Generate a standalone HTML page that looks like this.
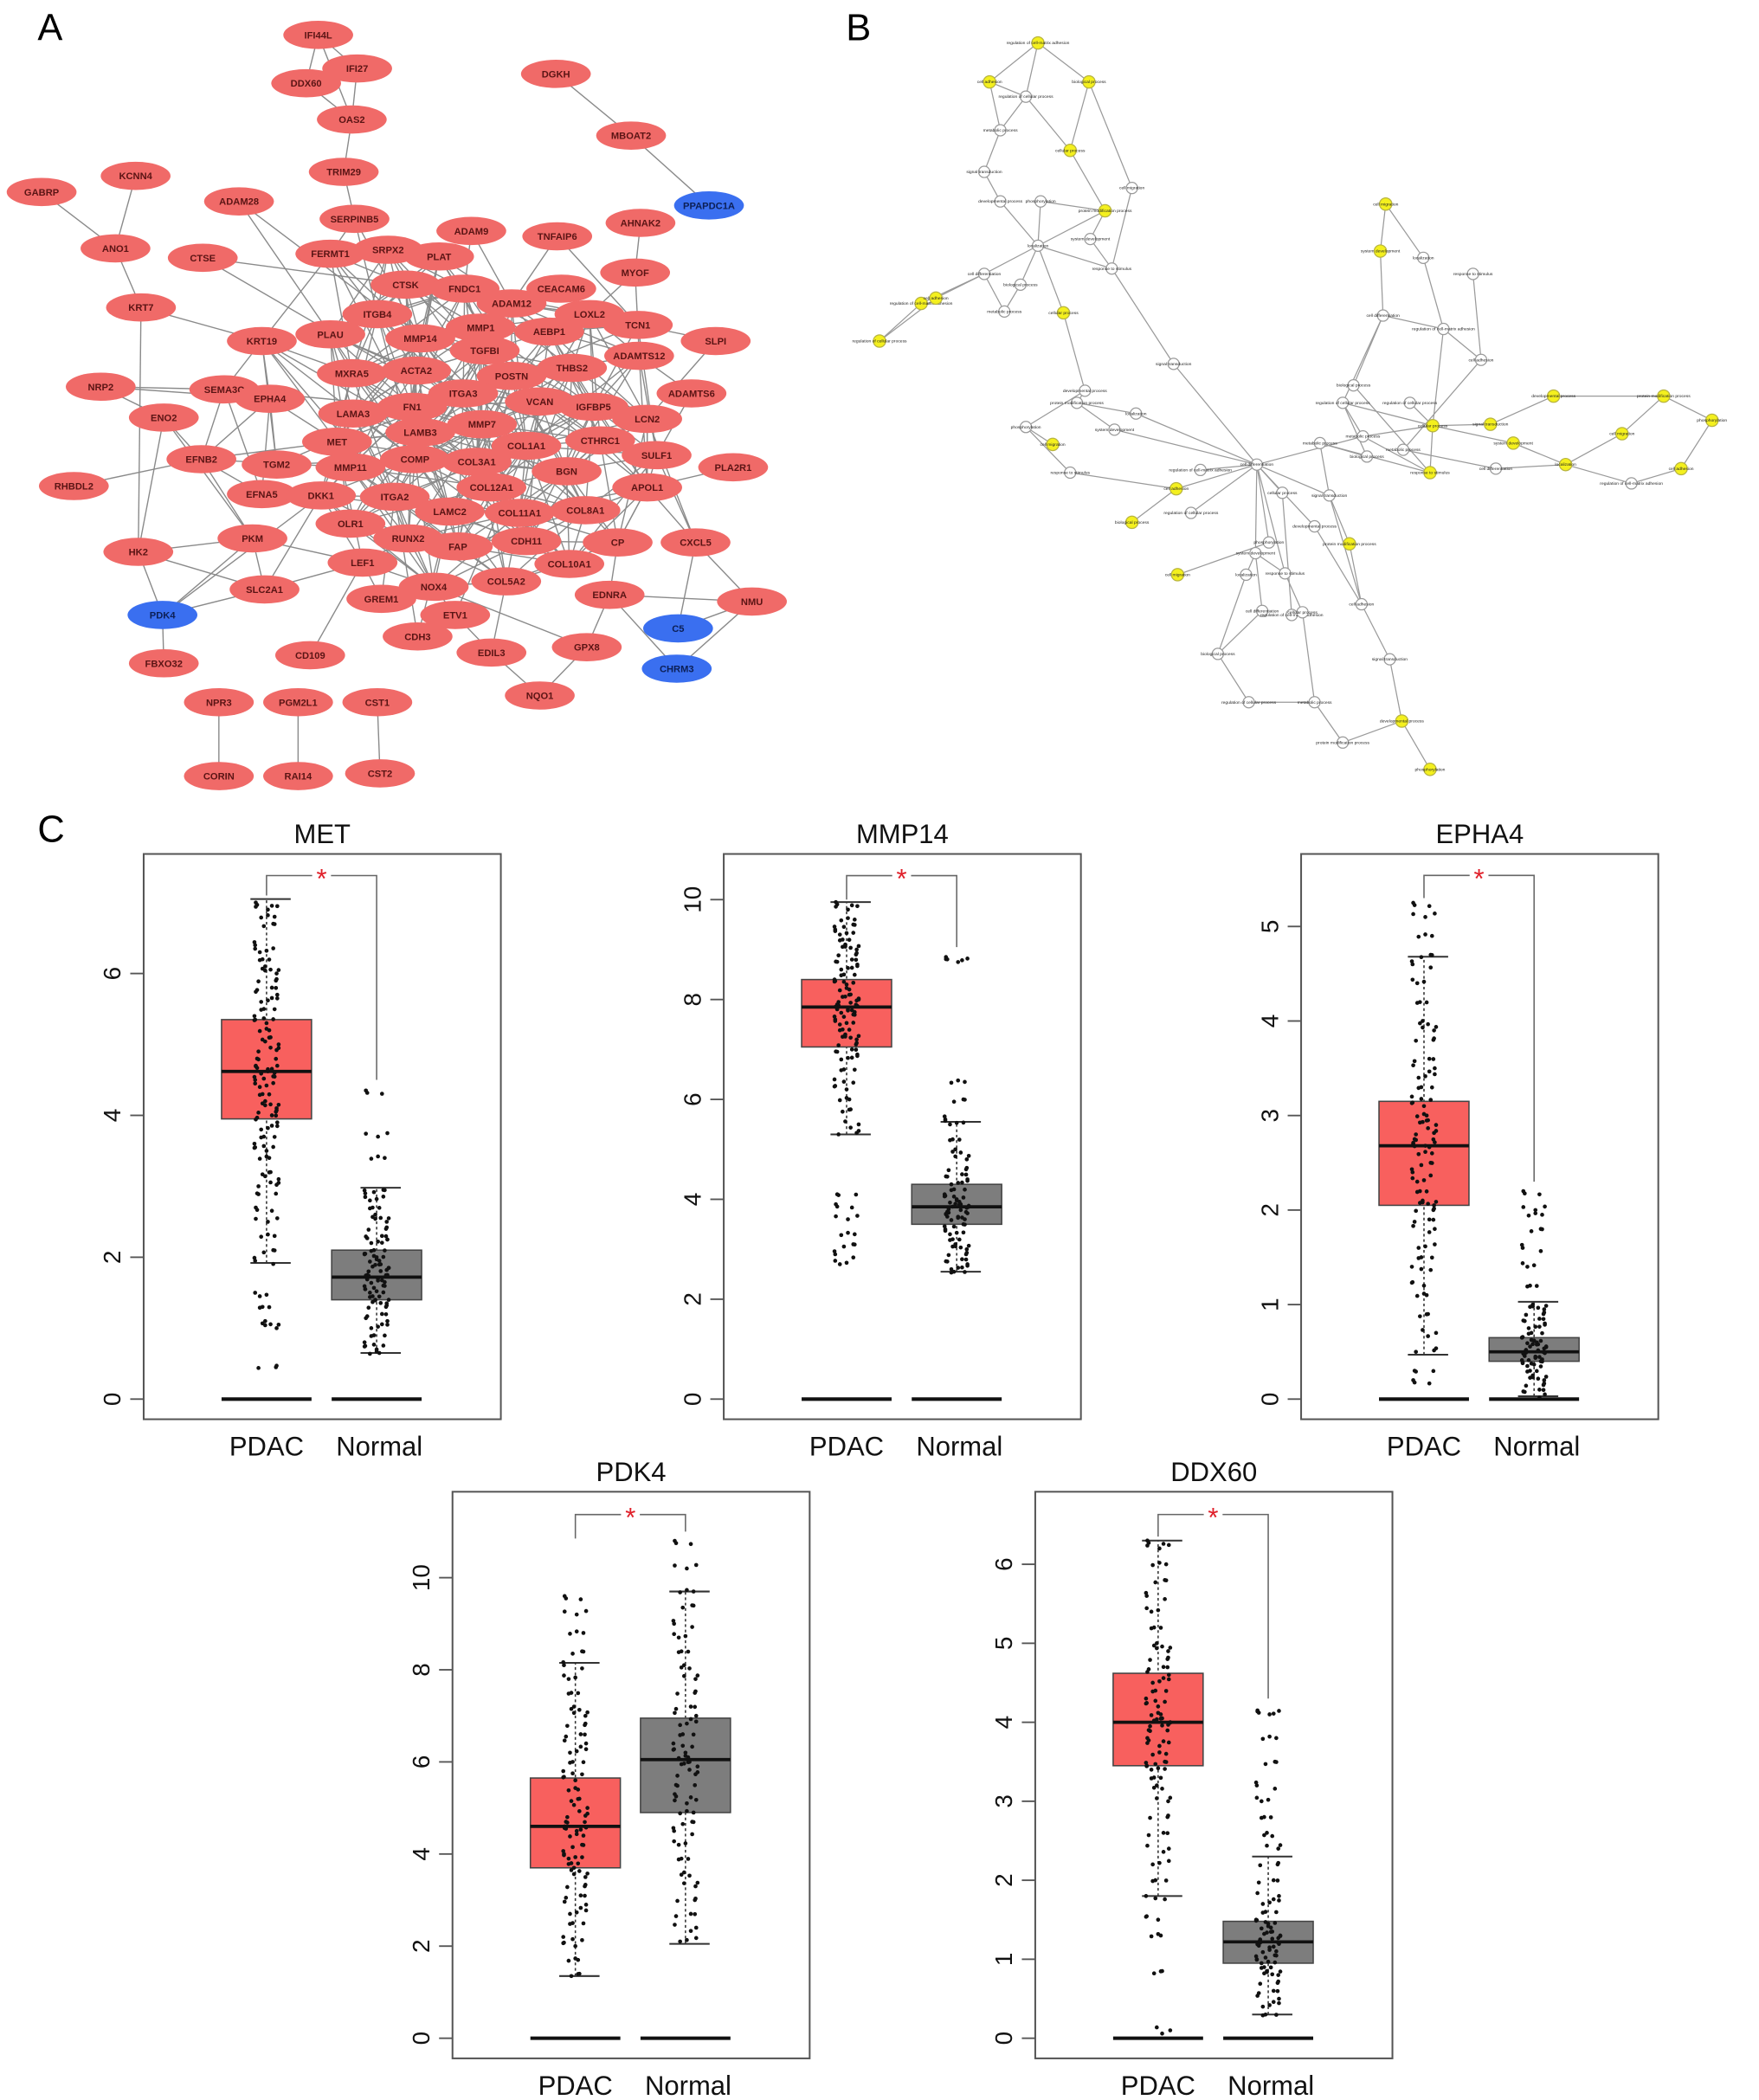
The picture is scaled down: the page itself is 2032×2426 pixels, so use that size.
<!DOCTYPE html>
<html><head><meta charset="utf-8"><style>
html,body{margin:0;padding:0;background:#fff}
svg{display:block}
text{font-family:"Liberation Sans",sans-serif}
</style></head><body>
<svg id="fig" width="2032" height="2426" viewBox="0 0 1310 1564" xmlns="http://www.w3.org/2000/svg">
<rect x="0" y="0" width="1310" height="1564" fill="#fff"/>
<text x="28" y="30" font-size="28">A</text>
<text x="630" y="30" font-size="28">B</text>
<text x="28" y="627" font-size="28">C</text>
<g id="netA"></g>
<g id="netB"></g>
<g id="boxes"></g>
</svg>
<script>
const NS="http://www.w3.org/2000/svg";
function mk(tag,attrs,parent){const e=document.createElementNS(NS,tag);for(const k in attrs)e.setAttribute(k,attrs[k]);parent.appendChild(e);return e;}

/* ---------- Panel A: PPI network ---------- */
const geneNodes=[["IFI44L",237,26],["IFI27",266,51],["DDX60",228,62],["OAS2",262,89],["TRIM29",256,128],["SERPINB5",264,163],["DGKH",414,55],["MBOAT2",470,101],["PPAPDC1A",528,153,1],["GABRP",31,143],["KCNN4",101,131],["ANO1",86,185],["ADAM28",178,150],["CTSE",151,192],["FERMT1",246,189],["SRPX2",289,186],["PLAT",327,191],["ADAM9",351,172],["TNFAIP6",415,176],["AHNAK2",477,166],["MYOF",473,203],["KRT7",105,229],["CTSK",302,212],["FNDC1",346,215],["CEACAM6",418,215],["ADAM12",381,226],["LOXL2",439,234],["TCN1",475,242],["SLPI",533,254],["ITGB4",281,234],["MMP1",358,244],["AEBP1",409,247],["KRT19",195,254],["PLAU",246,249],["MMP14",313,252],["TGFBI",361,261],["THBS2",426,274],["ADAMTS12",476,265],["MXRA5",262,278],["ACTA2",310,276],["POSTN",381,280],["NRP2",75,288],["SEMA3C",167,290],["EPHA4",201,297],["ITGA3",345,293],["VCAN",402,299],["IGFBP5",442,303],["ADAMTS6",515,293],["LAMA3",263,308],["FN1",307,303],["LAMB3",313,322],["MMP7",359,316],["LCN2",482,312],["ENO2",122,311],["MET",251,329],["COL1A1",392,332],["CTHRC1",447,328],["SULF1",489,339],["EFNB2",150,342],["TGM2",206,346],["MMP11",261,348],["COMP",309,342],["COL3A1",355,344],["BGN",422,351],["PLA2R1",546,348],["RHBDL2",55,362],["EFNA5",195,368],["DKK1",239,369],["ITGA2",294,370],["COL12A1",366,363],["APOL1",482,363],["LAMC2",335,381],["COL11A1",387,382],["COL8A1",436,380],["OLR1",261,390],["RUNX2",304,401],["FAP",341,407],["CDH11",392,403],["CP",460,404],["CXCL5",518,404],["HK2",103,411],["PKM",188,401],["LEF1",270,419],["COL10A1",424,420],["NOX4",323,437],["COL5A2",377,433],["EDNRA",454,443],["NMU",560,448],["SLC2A1",197,439],["GREM1",284,446],["ETV1",339,458],["C5",505,468,1],["PDK4",121,458,1],["CDH3",311,474],["EDIL3",366,486],["GPX8",437,482],["CHRM3",504,498,1],["FBXO32",122,494],["CD109",231,488],["NQO1",402,518],["NPR3",163,523],["PGM2L1",222,523],["CST1",281,523],["CORIN",163,578],["RAI14",222,578],["CST2",283,576]];
const geneEdges=[["IFI44L","IFI27"],["IFI44L","DDX60"],["IFI44L","OAS2"],["IFI27","DDX60"],["IFI27","OAS2"],["DDX60","OAS2"],["OAS2","TRIM29"],["TRIM29","SERPINB5"],["DGKH","MBOAT2"],["MBOAT2","PPAPDC1A"],["GABRP","ANO1"],["KCNN4","ANO1"],["ANO1","KRT7"],["KRT7","KRT19"],["KRT7","HK2"],["ADAM28","PLAU"],["CTSE","CTSK"],["SERPINB5","FERMT1"],["SERPINB5","ITGB4"],["SERPINB5","MMP14"],["FERMT1","KRT19"],["FERMT1","ITGB4"],["FERMT1","LAMB3"],["AHNAK2","MYOF"],["MYOF","TCN1"],["MYOF","LOXL2"],["TNFAIP6","ADAM12"],["TNFAIP6","TCN1"],["ADAM9","ADAM12"],["ADAM9","FNDC1"],["SLPI","TCN1"],["SLPI","LCN2"],["PLAT","PLAU"],["PLAT","MMP1"],["SRPX2","COL1A1"],["KRT19","MXRA5"],["KRT19","LAMB3"],["KRT19","MET"],["KRT19","ITGA2"],["KRT19","EPHA4"],["KRT19","TGM2"],["KRT19","SEMA3C"],["NRP2","SEMA3C"],["NRP2","ENO2"],["NRP2","EPHA4"],["SEMA3C","EFNB2"],["SEMA3C","EFNA5"],["SEMA3C","FN1"],["ENO2","EFNB2"],["ENO2","HK2"],["ENO2","PKM"],["EPHA4","EFNB2"],["EPHA4","EFNA5"],["EPHA4","MET"],["EPHA4","TGM2"],["EFNB2","RHBDL2"],["EFNB2","MET"],["EFNB2","PKM"],["EFNB2","EFNA5"],["EFNB2","MMP11"],["EFNA5","DKK1"],["TGM2","FN1"],["TGM2","COMP"],["HK2","PKM"],["HK2","SLC2A1"],["HK2","PDK4"],["PKM","PDK4"],["PKM","SLC2A1"],["PKM","LEF1"],["SLC2A1","PDK4"],["SLC2A1","LEF1"],["PDK4","FBXO32"],["PDK4","DKK1"],["DKK1","LEF1"],["DKK1","MMP11"],["DKK1","SLC2A1"],["LEF1","CD109"],["LEF1","RUNX2"],["LEF1","GREM1"],["LEF1","NOX4"],["LEF1","MET"],["GREM1","ITGA2"],["NOX4","GPX8"],["NOX4","ETV1"],["NOX4","COL5A2"],["ETV1","EDIL3"],["ETV1","COL1A1"],["EDIL3","NQO1"],["EDIL3","COL5A2"],["GPX8","NQO1"],["GPX8","EDNRA"],["CDH3","ITGA2"],["CDH3","LAMC2"],["EDNRA","NMU"],["EDNRA","CHRM3"],["EDNRA","CP"],["NMU","C5"],["NMU","CHRM3"],["NMU","CXCL5"],["C5","CXCL5"],["CXCL5","SULF1"],["CXCL5","APOL1"],["CXCL5","LCN2"],["PLA2R1","APOL1"],["APOL1","CP"],["APOL1","LCN2"],["ADAMTS6","SULF1"],["ADAMTS6","ADAMTS12"],["NPR3","CORIN"],["PGM2L1","RAI14"],["CST1","CST2"],["KRT19","COMP"],["PLAU","MET"],["CTSE","COL1A1"],["ADAM28","MMP14"]];
const coreGenes=["CTSK","FNDC1","ADAM12","LOXL2","ITGB4","MMP1","AEBP1","PLAU","MMP14","TGFBI","THBS2","ADAMTS12","MXRA5","ACTA2","POSTN","ITGA3","VCAN","IGFBP5","LAMA3","FN1","LAMB3","MMP7","LCN2","MET","COL1A1","CTHRC1","SULF1","MMP11","COMP","COL3A1","BGN","ITGA2","COL12A1","LAMC2","COL11A1","COL8A1","OLR1","RUNX2","FAP","CDH11","CP","COL10A1","COL5A2","NOX4","TCN1","PLAT","SRPX2","FERMT1","APOL1","DKK1"];
(function(){
  const g=document.getElementById('netA');
  const pos={};geneNodes.forEach(n=>pos[n[0]]=n);
  const eg=mk('g',{},g);
  
  
  const line=(a,b)=>{const l=mk('line',{x1:pos[a][1],y1:pos[a][2],x2:pos[b][1],y2:pos[b][2],stroke:'#8a8a8a','stroke-width':0.9},eg);};
  geneEdges.forEach(e=>line(e[0],e[1]));
  for(let i=0;i<coreGenes.length;i++)for(let j=i+1;j<coreGenes.length;j++){
    const a=pos[coreGenes[i]],b=pos[coreGenes[j]];
    const d=Math.hypot(a[1]-b[1],a[2]-b[2]);
    if(d<115 && (i+j)%3!==0) line(coreGenes[i],coreGenes[j]);
  }
  geneNodes.forEach(n=>{
    const ng=mk('g',{},g);
    
    
    mk('ellipse',{cx:n[1],cy:n[2],rx:26,ry:10.5,fill:n[3]?'#3a6ff0':'#f06a68'},ng);
    const t=mk('text',{x:n[1],y:n[2]+2.6,'font-size':7.2,'font-weight':'bold','text-anchor':'middle',fill:n[3]?'#0c1f55':'#5a1414'},ng);
    t.textContent=n[0];
  });
})();

/* ---------- Panel B: GO network ---------- */
const goNodes=[[773,32,1],[737,61,1],[811,61,1],[764,72,0],[745,97,0],[797,112,1],[733,128,0],[745,150,0],[823,157,1],[775,150,0],[843,140,0],[812,178,0],[773,183,0],[828,200,0],[733,204,0],[686,226,1],[697,222,1],[760,212,0],[655,254,1],[748,232,0],[792,233,1],[874,271,0],[808,291,0],[802,300,0],[764,318,0],[784,331,1],[830,320,0],[846,308,0],[797,352,0],[936,346,0],[894,350,0],[876,364,1],[843,389,1],[887,382,0],[1015,325,0],[955,367,0],[990,369,0],[979,392,0],[1005,405,1],[945,404,0],[877,428,1],[935,412,0],[928,428,0],[957,427,0],[940,455,0],[962,458,0],[1014,450,0],[907,487,0],[930,523,0],[979,523,0],[970,456,0],[1035,491,0],[1044,537,1],[1000,553,0],[1065,573,1],[1032,152,1],[1028,187,1],[1060,192,0],[1097,204,0],[1030,235,0],[1075,245,0],[1103,268,0],[1008,287,0],[1000,300,0],[1045,335,0],[1067,317,1],[1110,316,1],[1157,295,1],[1239,295,1],[1275,313,1],[1208,323,1],[1127,330,1],[1166,346,1],[1065,352,1],[1114,349,0],[1215,360,0],[1252,349,1],[1018,340,0],[1050,300,0],[983,330,0]];
const goEdges=[[0,1],[0,2],[1,3],[3,0],[2,5],[3,5],[1,4],[4,6],[4,3],[6,7],[7,12],[5,8],[2,10],[10,13],[9,12],[9,8],[11,8],[11,13],[12,8],[12,14],[12,17],[12,13],[12,20],[14,15],[14,16],[14,19],[15,18],[16,18],[19,17],[13,21],[21,29],[20,22],[22,24],[22,23],[23,26],[23,27],[24,25],[24,28],[26,29],[27,29],[28,31],[29,30],[29,31],[29,33],[31,32],[29,34],[29,35],[29,36],[29,37],[29,39],[29,41],[29,43],[34,63],[34,65],[34,73],[36,38],[36,46],[35,45],[39,40],[41,42],[41,44],[41,43],[42,47],[44,47],[47,48],[48,49],[43,50],[50,49],[49,53],[53,52],[46,51],[51,52],[52,54],[38,46],[37,46],[55,56],[55,57],[57,60],[56,59],[58,61],[59,60],[60,61],[59,62],[59,63],[61,64],[60,65],[62,73],[63,65],[65,66],[66,67],[67,68],[68,69],[69,76],[76,75],[75,72],[72,70],[70,68],[65,71],[71,72],[65,73],[64,74],[74,72],[77,79],[79,73],[36,79],[78,65],[63,77]];
const goTerms=["regulation of cell-matrix adhesion","cell adhesion","biological process","regulation of cellular process","metabolic process","cellular process","signal transduction","developmental process","protein modification process","phosphorylation","cell migration","system development","localization","response to stimulus","cell differentiation"];
(function(){
  const g=document.getElementById('netB');
  goEdges.forEach(e=>{const a=goNodes[e[0]],b=goNodes[e[1]];
    const l=mk('line',{x1:a[0],y1:a[1],x2:b[0],y2:b[1],stroke:'#9a9a9a','stroke-width':0.8},g);
    
    });
  goNodes.forEach((n,i)=>{
    const ng=mk('g',{},g);
    
    
    mk('circle',{cx:n[0],cy:n[1],r:n[2]?4.6:4.2,fill:n[2]?'#f4f01e':'#fff',stroke:n[2]?'#b8b440':'#9a9a9a','stroke-width':0.8},ng);
    const t=mk('text',{x:n[0],y:n[1]+1,'font-size':3.2,'text-anchor':'middle',fill:'#222'},ng);
    t.textContent=goTerms[i%goTerms.length];
  });
})();

/* ---------- Panel C: box plots ---------- */
const geneTitles=["MET","MMP14","EPHA4","PDK4","DDX60"];
const groupNames=["PDAC","Normal"];
const yTicks=[[0,2,4,6],[0,2,4,6,8,10],[0,1,2,3,4,5],[0,2,4,6,8,10],[0,1,2,3,4,5,6]];
// [whiskerLow, q1, median, q3, whiskerHigh] for PDAC and Normal
const pdacStats=[[1.92,3.95,4.62,5.35,7.05],[5.3,7.05,7.85,8.4,9.95],[0.47,2.05,2.68,3.15,4.68],[1.35,3.7,4.6,5.65,8.15],[1.8,3.45,4.0,4.62,6.3]];
const normalStats=[[0.65,1.4,1.72,2.1,2.98],[2.55,3.5,3.85,4.3,5.55],[0.03,0.4,0.5,0.65,1.03],[2.05,4.9,6.05,6.95,9.7],[0.3,0.95,1.22,1.48,2.3]];
// significance bracket: [top, leftLegEnd, rightLegEnd]
const bracketVals=[[7.38,7.1,4.5],[10.48,10.0,9.05],[5.54,5.3,2.3],[11.37,10.85,11.0],[6.63,6.35,4.3]];
const pdacPoints=[
[7.0,6.9,6.8,6.7,6.4,6.3,6.2,6.1,6.0,5.9,5.8,5.7,5.6,5.5,5.4,5.3,5.2,5.1,5.0,4.9,4.8,4.7,4.65,4.6,4.55,4.5,4.4,4.3,4.2,4.1,4.05,4.0,3.9,3.8,3.7,3.6,3.5,3.4,3.2,3.1,3.0,2.9,2.7,2.5,2.3,2.1,1.95,1.45,1.3,1.1,1.0,0.45],
[9.95,9.8,9.6,9.5,9.4,9.3,9.2,9.1,9.0,8.9,8.8,8.7,8.6,8.5,8.4,8.3,8.2,8.1,8.0,7.95,7.9,7.85,7.8,7.75,7.7,7.6,7.5,7.4,7.3,7.2,7.1,7.0,6.9,6.8,6.6,6.4,6.2,6.0,5.8,5.5,5.3,4.1,3.9,3.6,3.3,3.1,2.9,2.7],
[5.25,5.1,4.9,4.7,4.6,4.4,4.2,4.0,3.9,3.8,3.6,3.5,3.4,3.3,3.2,3.1,3.0,2.95,2.9,2.8,2.75,2.7,2.68,2.6,2.5,2.4,2.3,2.2,2.1,2.05,2.0,1.9,1.8,1.6,1.5,1.4,1.2,1.1,0.9,0.7,0.5,0.3,0.2],
[9.6,9.2,8.8,8.4,8.1,7.8,7.5,7.2,7.0,6.8,6.6,6.4,6.2,6.0,5.8,5.6,5.4,5.2,5.0,4.8,4.7,4.6,4.5,4.4,4.2,4.0,3.9,3.8,3.7,3.5,3.3,3.1,2.9,2.7,2.5,2.2,2.0,1.7,1.4],
[6.3,6.2,6.0,5.8,5.6,5.4,5.2,5.0,4.9,4.8,4.7,4.6,4.5,4.4,4.3,4.2,4.1,4.05,4.0,3.95,3.9,3.8,3.7,3.6,3.5,3.45,3.4,3.3,3.2,3.0,2.8,2.6,2.4,2.2,2.0,1.8,1.5,1.3,0.85,0.1]];
const normalPoints=[
[4.35,3.7,3.4,2.95,2.9,2.8,2.7,2.6,2.5,2.4,2.3,2.25,2.2,2.1,2.05,2.0,1.95,1.9,1.85,1.8,1.75,1.72,1.7,1.65,1.6,1.55,1.5,1.45,1.4,1.35,1.3,1.2,1.1,1.0,0.9,0.8,0.7,0.65],
[8.85,8.75,6.35,6.0,5.6,5.5,5.2,5.0,4.8,4.6,4.5,4.4,4.3,4.2,4.1,4.0,3.95,3.9,3.85,3.8,3.75,3.7,3.65,3.6,3.5,3.4,3.3,3.2,3.1,3.0,2.9,2.8,2.7,2.6,2.55],
[2.2,2.0,1.95,1.8,1.6,1.4,1.2,1.0,0.95,0.9,0.85,0.8,0.75,0.7,0.65,0.62,0.6,0.58,0.55,0.52,0.5,0.48,0.45,0.42,0.4,0.38,0.35,0.3,0.25,0.2,0.15,0.1,0.05],
[10.8,10.2,9.7,9.4,9.0,8.7,8.4,8.1,7.8,7.5,7.2,7.0,6.8,6.6,6.4,6.2,6.1,6.0,5.9,5.7,5.5,5.3,5.1,4.9,4.7,4.5,4.2,3.9,3.6,3.3,3.0,2.7,2.4,2.1],
[4.15,4.1,3.8,3.5,3.2,3.0,2.8,2.6,2.4,2.2,2.0,1.8,1.7,1.6,1.5,1.45,1.4,1.35,1.3,1.25,1.22,1.2,1.15,1.1,1.05,1.0,0.95,0.9,0.85,0.8,0.7,0.6,0.5,0.4,0.3]];

// layout (not data): frame left, frame top, frame bottom, pixel of 0, pixels per unit
const panelLayout=[{fx:107,ft:636,fb:1057,y0:1042,ppu:52.83},{fx:539,ft:636,fb:1057,y0:1042,ppu:37.2},{fx:969,ft:636,fb:1057,y0:1042,ppu:70.4},{fx:337,ft:1111,fb:1533,y0:1518,ppu:34.3},{fx:771,ft:1111,fb:1533,y0:1518,ppu:58.83}];
const jitterX=[-8,3,-2,7,-5,1,9,-9,4,-3,6,-6,0,8,-1,5,-7,2,-4,7.5,-8.5];
const jitterY=[-2.2,0.6,2.4,-1.1,1.7,-2.6,0.2];

(function(){
  const root=document.getElementById('boxes');
  geneTitles.forEach((title,p)=>{
    const L=panelLayout[p];const W=266;
    const y=v=>L.y0-v*L.ppu;
    const g=mk('g',{},root);
    
    
    const tt=mk('text',{x:L.fx+W/2,y:L.ft-8,'font-size':20,'text-anchor':'middle',fill:'#111'},g);
    
    
    tt.textContent=title;
    const fr=mk('rect',{x:L.fx,y:L.ft,width:W,height:L.fb-L.ft,fill:'none',stroke:'#555','stroke-width':1.3},g);
    
    
    yTicks[p].forEach(t=>{
      const tl=mk('line',{x1:L.fx-10,x2:L.fx,y1:y(t),y2:y(t),stroke:'#555','stroke-width':1.2},g);
      
      
      const lb=mk('text',{x:L.fx-22,y:y(t),'font-size':18,'text-anchor':'middle',fill:'#111',transform:`rotate(-90 ${L.fx-22} ${y(t)})`,'dominant-baseline':'middle'},g);
      
      
      lb.textContent=t;
    });
    const centers=[L.fx+91.5,L.fx+173.5];
    const stats=[pdacStats[p],normalStats[p]];
    const pts=[pdacPoints[p],normalPoints[p]];
    const fills=['#f8605e','#7d7d7d'];
    centers.forEach((cx,k)=>{
      const s=stats[k];const bw=67;
      const bg=mk('g',{},g);
      
      
      mk('line',{x1:cx,x2:cx,y1:y(s[0]),y2:y(s[4]),stroke:'#333','stroke-width':1,'stroke-dasharray':'2,2'},bg);
      mk('line',{x1:cx-12,x2:cx+18,y1:y(s[0]),y2:y(s[0]),stroke:'#333','stroke-width':1.3},bg);
      mk('line',{x1:cx-12,x2:cx+18,y1:y(s[4]),y2:y(s[4]),stroke:'#333','stroke-width':1.3},bg);
      mk('rect',{x:cx-bw/2,y:y(s[3]),width:bw,height:y(s[1])-y(s[3]),fill:fills[k],stroke:'#444','stroke-width':1},bg);
      mk('line',{x1:cx-bw/2,x2:cx+bw/2,y1:y(s[2]),y2:y(s[2]),stroke:'#111','stroke-width':2.4},bg);
      mk('line',{x1:cx-bw/2,x2:cx+bw/2,y1:y(0),y2:y(0),stroke:'#111','stroke-width':2.6},bg);
      pts[k].forEach((v,i)=>{
        for(let r=0;r<3;r++){
          const jx=jitterX[(i*5+r*8)%jitterX.length];
          const jy=r===0?0:jitterY[(i*3+r*2)%jitterY.length];
          const c=mk('circle',{cx:cx+jx,cy:y(v)+jy,r:1.5,fill:'#111'},bg);
          
          
        }
      });
      const gl=mk('text',{x:cx+(k?2:0),y:L.fb+27,'font-size':20,'text-anchor':'middle',fill:'#111'},g);
      
      
      gl.textContent=groupNames[k];
    });
    const b=bracketVals[p];
    const br=mk('path',{d:`M${centers[0]} ${y(b[1])} V${y(b[0])} H${centers[0]+34} M${centers[1]-34} ${y(b[0])} H${centers[1]} V${y(b[2])}`,fill:'none',stroke:'#666','stroke-width':1},g);
    
    
    const st=mk('text',{x:(centers[0]+centers[1])/2,y:y(b[0])+9,'font-size':20,'text-anchor':'middle',fill:'#e0202a'},g);
    
    
    st.textContent='*';
  });
})();
</script>
</body></html>
